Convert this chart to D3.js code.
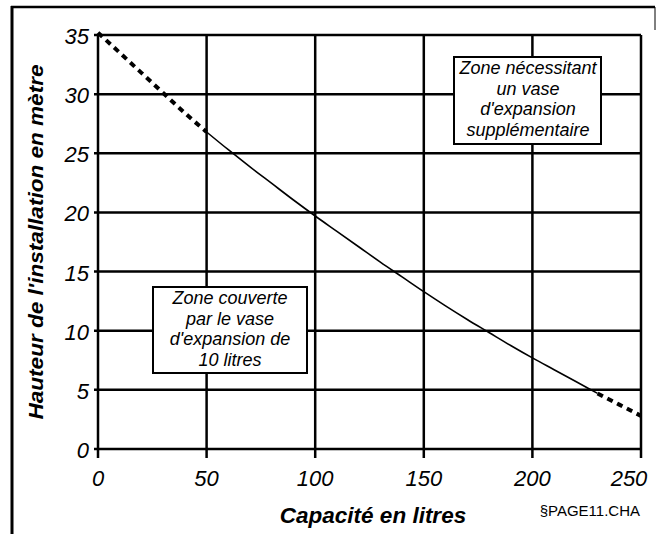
<!DOCTYPE html>
<html>
<head>
<meta charset="utf-8">
<script src="https://cdn.jsdelivr.net/npm/d3@7"></script>
<style>
  body { margin: 0; background: #fff; }
  text { font-family: 'Liberation Sans', Arial, sans-serif; fill: #000; }
</style>
</head>
<body>
<div id="chart"></div>
<script>
// Capacity (litres) and installation height (m)
var capacite = [0, 10, 20, 30, 40, 50, 60, 70, 80, 90, 100, 110, 120, 130, 140, 150,
  160, 170, 180, 190, 200, 210, 220, 230, 240, 250];
var hauteur = [35.2, 33.5, 31.8, 30.1, 28.4, 26.8, 25.3, 23.85, 22.45, 21.05, 19.7, 18.4,
  17.1, 15.8, 14.55, 13.3, 12.1, 10.95, 9.85, 8.75, 7.7, 6.7, 5.7, 4.7, 3.75, 2.8];
// the curve is dashed outside this range
var solidFrom = 50, solidTo = 230;

var xTicks = [0, 50, 100, 150, 200, 250];
var yTicks = [0, 5, 10, 15, 20, 25, 30, 35];

var zoneHaute = ['Zone nécessitant', 'un vase', "d'expansion", 'supplémentaire'];
var zoneBasse = ['Zone couverte', 'par le vase', "d'expansion de", '10 litres'];

var width = 659, height = 534;
var margin = { top: 35, right: 18, bottom: 85, left: 98 };

var svg = d3
  .select('#chart')
  .append('svg')
  .attr('width', width)
  .attr('height', height);

var x = d3.scaleLinear().domain([0, 250]).range([margin.left, width - margin.right]);
var y = d3.scaleLinear().domain([0, 35]).range([height - margin.bottom, margin.top]);

// outer frame (only left, top and a bit of right survive in the scan)
svg.append('line').attr('x1', 12).attr('x2', 12).attr('y1', 6).attr('y2', height)
  .attr('stroke', '#000').attr('stroke-width', 3);
svg.append('line').attr('x1', 11).attr('x2', 655).attr('y1', 7).attr('y2', 7)
  .attr('stroke', '#000').attr('stroke-width', 2.5);
svg.append('line').attr('x1', 655).attr('x2', 655).attr('y1', 7).attr('y2', 30)
  .attr('stroke', '#000').attr('stroke-width', 1);

// grid
var grid = svg.append('g');
grid.selectAll('.vg').data(xTicks).enter().append('line')
  .attr('x1', function (d) { return x(d); })
  .attr('x2', function (d) { return x(d); })
  .attr('y1', y(35)).attr('y2', y(0) + 9)
  .attr('stroke', '#000').attr('stroke-width', 2.5);
grid.selectAll('.hg').data(yTicks).enter().append('line')
  .attr('x1', x(0) - 4).attr('x2', x(250))
  .attr('y1', function (d) { return y(d); })
  .attr('y2', function (d) { return y(d); })
  .attr('stroke', '#000').attr('stroke-width', 2.5);

// tick labels (last one is pushed back inside the frame, as in the scan)
svg.selectAll('.xl').data(xTicks).enter().append('text')
  .attr('x', function (d) { return Math.min(x(d), width - 30); })
  .attr('y', y(0) + 37)
  .attr('text-anchor', 'middle')
  .style('font-size', '22px').style('font-style', 'italic')
  .text(function (d) { return d; });
svg.selectAll('.yl').data(yTicks).enter().append('text')
  .attr('x', x(0) - 9)
  .attr('y', function (d) { return y(d) + 9; })
  .attr('text-anchor', 'end')
  .style('font-size', '22px').style('font-style', 'italic')
  .text(function (d) { return d; });

// axis titles
svg.append('text')
  .attr('x', 373).attr('y', 523)
  .attr('text-anchor', 'middle')
  .style('font-size', '22.5px').style('font-style', 'italic').style('font-weight', 'bold')
  .text('Capacité en litres');
svg.append('text')
  .attr('transform', 'translate(43,242) rotate(-90)')
  .attr('text-anchor', 'middle')
  .attr('textLength', 355).attr('lengthAdjust', 'spacingAndGlyphs')
  .style('font-size', '21px').style('font-style', 'italic').style('font-weight', 'bold')
  .text("Hauteur de l'installation en mètre");
svg.append('text')
  .attr('x', 640).attr('y', 516)
  .attr('text-anchor', 'end')
  .style('font-size', '15px')
  .text('§PAGE11.CHA');

// curve: dashed ends, thin solid middle
var pts = capacite.map(function (c, i) { return [c, hauteur[i]]; });
var line = d3.line()
  .x(function (d) { return x(d[0]); })
  .y(function (d) { return y(d[1]); })
  .curve(d3.curveMonotoneX);

svg.append('path')
  .datum(pts.filter(function (d) { return d[0] <= solidFrom; }))
  .attr('d', line).attr('fill', 'none')
  .attr('stroke', '#000').attr('stroke-width', 4).attr('stroke-dasharray', '6,5');
svg.append('path')
  .datum(pts.filter(function (d) { return d[0] >= solidFrom && d[0] <= solidTo; }))
  .attr('d', line).attr('fill', 'none')
  .attr('stroke', '#000').attr('stroke-width', 1.6);
svg.append('path')
  .datum(pts.filter(function (d) { return d[0] >= solidTo; }))
  .attr('d', line).attr('fill', 'none')
  .attr('stroke', '#000').attr('stroke-width', 4).attr('stroke-dasharray', '6,5');

// annotation boxes
function zone(lines, cx, x0, x1, y0, y1) {
  svg.append('rect')
    .attr('x', x0).attr('y', y0)
    .attr('width', x1 - x0).attr('height', y1 - y0)
    .attr('fill', '#fff').attr('stroke', '#000').attr('stroke-width', 2);
  svg.selectAll(null).data(lines).enter().append('text')
    .attr('x', cx)
    .attr('y', function (d, i) { return y0 + 17 + i * 20.5; })
    .attr('text-anchor', 'middle')
    .style('font-size', '18px').style('font-style', 'italic')
    .text(function (d) { return d; });
}
zone(zoneHaute, 528, 454, 601, 57, 144);
zone(zoneBasse, 230, 153, 307, 287, 373);
</script>
</body>
</html>
